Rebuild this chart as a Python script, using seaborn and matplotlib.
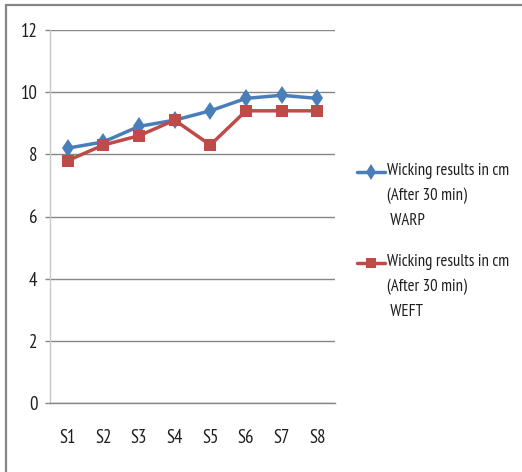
import matplotlib
matplotlib.use("Agg")
import matplotlib.pyplot as plt
from matplotlib.legend_handler import HandlerLine2D
from matplotlib.lines import Line2D
import seaborn as sns
import pandas as pd

samples = ["S1", "S2", "S3", "S4", "S5", "S6", "S7", "S8"]
warp = [8.2, 8.4, 8.9, 9.1, 9.4, 9.8, 9.9, 9.8]
weft = [7.8, 8.3, 8.6, 9.1, 8.3, 9.4, 9.4, 9.4]
series_labels = [
    "Wicking results in cm\n(After 30 min)\n WARP",
    "Wicking results in cm\n(After 30 min)\n WEFT",
]
y_ticks = [0, 2, 4, 6, 8, 10, 12]

sns.set_theme(style="white")
plt.rcParams["font.family"] = ["PT Sans Narrow", "DejaVu Sans"]

df = pd.DataFrame({
    "sample": samples * 2,
    "value": warp + weft,
    "series": [series_labels[0]] * len(samples) + [series_labels[1]] * len(samples),
})

blue = "#4A7EBB"
red = "#BE4B48"
grid_c = "#868686"
text_c = "#1e1e1e"

fig = plt.figure(figsize=(5.22, 4.72), dpi=100)
ax = fig.add_axes([50 / 522, 1 - 403 / 472, 285 / 522, 373 / 472])

sns.lineplot(
    data=df, x="sample", y="value", hue="series", style="series",
    palette=[blue, red], markers=["d", "s"], dashes=False,
    linewidth=2.5, markersize=9, markeredgewidth=0, sort=False,
    ax=ax, legend=False,
)
# the square markers are drawn slightly larger than the diamonds
lines = ax.get_lines()
lines[0].set_markersize(9.5)
lines[1].set_markersize(8.5)

ax.set_ylim(0, 12)
ax.set_xlim(-0.5, len(samples) - 0.5)
ax.set_yticks(y_ticks)
ax.set_xticks(range(len(samples)))
ax.set_xticklabels(samples)
ax.set_xticks([i - 0.5 for i in range(len(samples) + 1)], minor=True)
ax.set_xlabel("")
ax.set_ylabel("")

ax.yaxis.grid(True, color=grid_c, linewidth=1)
ax.set_axisbelow(True)
for side in ("top", "right"):
    ax.spines[side].set_visible(False)
ax.spines["bottom"].set_color(grid_c)
ax.spines["bottom"].set_linewidth(1)
ax.spines["left"].set_color("#c8c8c8")
ax.spines["left"].set_linewidth(1)

ax.tick_params(axis="x", which="major", length=0, pad=18.5, labelsize=13.5, labelcolor=text_c)
ax.tick_params(axis="x", which="minor", length=5, width=1, color="#b0b0b0", direction="out")
ax.tick_params(axis="y", which="major", left=True, length=3.6, width=1, color=grid_c,
               pad=5.5, labelsize=13.5, labelcolor=text_c)


class TopLineHandler(HandlerLine2D):
    """Place the legend key next to the first line of a multi-line label."""

    def __init__(self, shift, **kw):
        super().__init__(**kw)
        self.shift = shift

    def create_artists(self, legend, orig_handle, xdescent, ydescent,
                       width, height, fontsize, trans):
        return super().create_artists(legend, orig_handle, xdescent,
                                      ydescent - 2 * self.shift, width, height,
                                      fontsize, trans)


handles = [
    Line2D([], [], color=blue, marker="d", markersize=8, linewidth=2.5, markeredgewidth=0),
    Line2D([], [], color=red, marker="s", markersize=7.5, linewidth=2.5, markeredgewidth=0),
]
shift = 17.6
leg = fig.legend(
    handles, series_labels, loc="upper left", bbox_to_anchor=(357 / 522, 1 - 163 / 472),
    frameon=False, fontsize=12, handlelength=1.65, handletextpad=0.17,
    labelspacing=1.45, borderpad=0, borderaxespad=0,
    handler_map={h: TopLineHandler(shift) for h in handles},
)
for t in leg.get_texts():
    t.set_color(text_c)
    t.set_linespacing(1.74)

# chart frame: top and left edges
fig.add_artist(Line2D([6 / 522, 6 / 522], [0, 1 - 5 / 472], color=grid_c, linewidth=1.6,
                      transform=fig.transFigure))
fig.add_artist(Line2D([6 / 522, 1], [1 - 5 / 472, 1 - 5 / 472], color=grid_c, linewidth=1.6,
                      transform=fig.transFigure))

fig.savefig("out.png", dpi=100)
